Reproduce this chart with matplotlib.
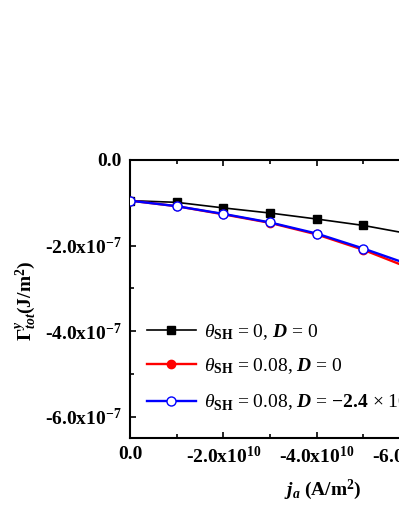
import matplotlib
matplotlib.use("Agg")
import matplotlib.pyplot as plt
from matplotlib.ticker import FixedLocator

plt.rcParams['font.family'] = ['Liberation Serif', 'DejaVu Serif']
plt.rcParams['mathtext.fontset'] = 'custom'
plt.rcParams['mathtext.rm'] = 'Liberation Serif:bold'
plt.rcParams['mathtext.bf'] = 'Liberation Serif:bold'
plt.rcParams['mathtext.it'] = 'Liberation Serif:italic'
plt.rcParams['mathtext.bfit'] = 'Liberation Serif:italic:bold'

# data
ja = [0.0, -1e10, -2e10, -3e10, -4e10, -5e10, -6e10]
gamma_black = [-0.95e-7, -0.99e-7, -1.12e-7, -1.24e-7, -1.38e-7, -1.53e-7, -1.73e-7]
gamma_red = [-0.95e-7, -1.08e-7, -1.27e-7, -1.47e-7, -1.74e-7, -2.10e-7, -2.53e-7]
gamma_blue = [-0.95e-7, -1.08e-7, -1.26e-7, -1.46e-7, -1.72e-7, -2.07e-7, -2.45e-7]

labels = [r"$\theta_{\mathbf{SH}}$ = 0, $\boldsymbol{D}$ = 0",
          r"$\theta_{\mathbf{SH}}$ = 0.08, $\boldsymbol{D}$ = 0",
          r"$\theta_{\mathbf{SH}}$ = 0.08, $\boldsymbol{D}$ = $\mathbf{-2.4}$ × 10$^{-3}$ J/m$^2$"]

xticks = [0.0, -2e10, -4e10, -6e10, -8e10]
xticklabels = ["0.0", r"-2.0x10$^{10}$", r"-4.0x10$^{10}$", r"-6.0x10$^{10}$", r"-8.0x10$^{10}$"]
yticks = [0.0, -2e-7, -4e-7, -6e-7]
yticklabels = ["0.0", r"-2.0x10$^{-7}$", r"-4.0x10$^{-7}$", r"-6.0x10$^{-7}$"]

W, H = 399, 516
fig = plt.figure(figsize=(W / 100, H / 100), dpi=100)
ax = fig.add_axes([130 / W, 1 - 438 / H, 386 / W, 278 / H])

ax.plot(ja, gamma_black, color='black', lw=1.2, marker='s', ms=5.5, mfc='black', mec='black', label=labels[0], zorder=3)
ax.plot(ja, gamma_red, color='red', lw=1.7, marker='o', ms=6, mfc='red', mec='red', label=labels[1], zorder=3)
ax.plot(ja, gamma_blue, color='blue', lw=1.7, marker='o', ms=6.5, mfc='white', mec='blue', mew=1.0, label=labels[2], zorder=4)

ax.set_xlim(0.0, -8.27e10)
ax.set_ylim(-6.5e-7, 0.0)

ax.set_xticks(xticks)
ax.set_xticklabels(xticklabels)
ax.set_yticks(yticks)
ax.set_yticklabels(yticklabels)
ax.xaxis.set_minor_locator(FixedLocator([-1e10, -3e10, -5e10, -7e10]))
ax.yaxis.set_minor_locator(FixedLocator([-1e-7, -3e-7, -5e-7]))

ax.tick_params(which='both', direction='in', top=True, right=False, width=1.2)
ax.tick_params(which='major', length=4.5, labelsize=14, pad=6)
ax.tick_params(which='minor', length=3)
for lab in ax.get_xticklabels() + ax.get_yticklabels():
    lab.set_fontweight('bold')
for s in ax.spines.values():
    s.set_linewidth(1.5)

ax.set_xlabel(r"$\boldsymbol{j}_{\boldsymbol{a}}$ (A/m$^2$)", fontsize=14, fontweight='bold')
ax.xaxis.set_label_coords((323 - 130) / 386, -(478 - 438) / 278)
ax.set_ylabel(r"$\boldsymbol{\Gamma}^{\boldsymbol{y}}_{\boldsymbol{tot}}$(J/m$^2$)", fontsize=14, fontweight='bold')
ax.yaxis.set_label_coords(-(130 - 39) / 386, (438 - 301) / 278)

leg = ax.legend(loc='upper left', bbox_to_anchor=(147 / W, 1 - 322 / H), bbox_transform=fig.transFigure,
                frameon=False, fontsize=14, handlelength=2.5, handletextpad=0.45, labelspacing=0.72,
                borderpad=0, borderaxespad=0)

fig.savefig("out.png", dpi=100)
